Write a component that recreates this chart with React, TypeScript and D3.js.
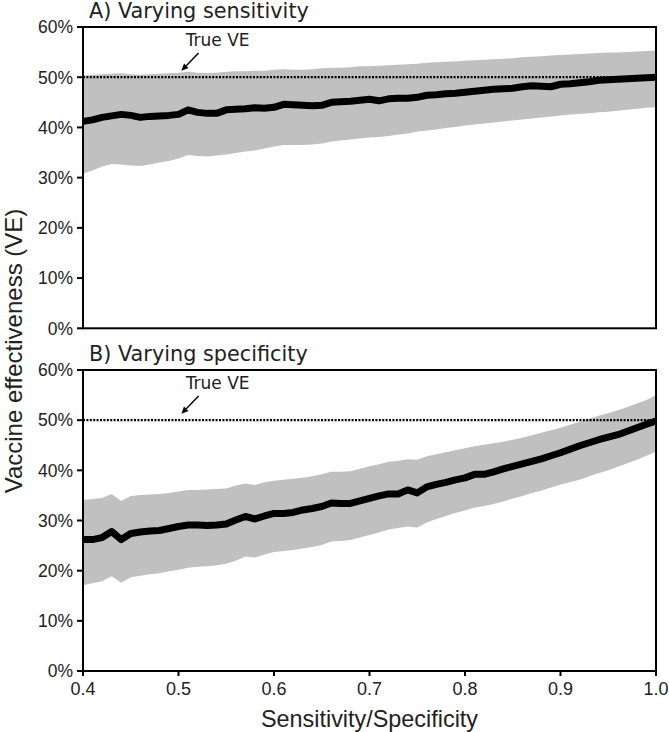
import React from "react";
import * as d3 from "d3";

const xValues: number[] = d3.range(61).map((i) => +(0.4 + i * 0.01).toFixed(2));

const sensMean: number[] = [
  41.2, 41.5, 42.0, 42.3, 42.6, 42.4, 42.0, 42.2, 42.3, 42.4,
  42.6, 43.5, 43.0, 42.8, 42.8, 43.5, 43.6, 43.7, 43.9, 43.8,
  44.0, 44.6, 44.5, 44.4, 44.3, 44.4, 45.0, 45.1, 45.2, 45.4,
  45.6, 45.3, 45.7, 45.8, 45.8, 46.0, 46.4, 46.5, 46.7, 46.8,
  47.0, 47.2, 47.4, 47.6, 47.7, 47.8, 48.1, 48.3, 48.2, 48.1,
  48.6, 48.7, 48.9, 49.1, 49.4, 49.5, 49.6, 49.7, 49.8, 49.9,
  50.0,
];
const sensUpper: number[] = [
  50.3, 50.5, 50.6, 50.7, 50.8, 50.6, 50.5, 50.6, 50.7, 50.8,
  50.9, 51.1, 50.9, 50.8, 50.9, 51.1, 51.2, 51.2, 51.3, 51.3,
  51.5, 51.6, 51.5, 51.5, 51.6, 51.8, 51.9, 51.9, 52.0, 52.2,
  52.2, 52.3, 52.4, 52.5, 52.6, 52.7, 52.9, 53.0, 53.1, 53.2,
  53.3, 53.4, 53.5, 53.6, 53.7, 53.8, 54.0, 54.1, 54.2, 54.3,
  54.4, 54.5, 54.6, 54.7, 54.8, 54.9, 54.9, 55.0, 55.1, 55.2,
  55.3,
];
const sensLower: number[] = [
  30.8, 31.4, 32.2, 32.7, 32.6, 32.4, 32.3, 32.6, 33.0, 33.3,
  33.8, 34.5, 34.3, 34.2, 34.4, 34.6, 34.9, 35.2, 35.4, 35.8,
  36.2, 36.5, 36.5, 36.5, 36.6, 36.8, 37.2, 37.4, 37.6, 37.8,
  38.0, 38.1, 38.3, 38.6, 38.8, 39.2, 39.4, 39.6, 39.9, 40.1,
  40.4, 40.6, 40.8, 41.0, 41.2, 41.4, 41.6, 41.8, 42.0, 42.2,
  42.4, 42.6, 42.7, 42.8, 43.0, 43.1, 43.3, 43.5, 43.7, 43.9,
  44.0,
];

const specMean: number[] = [
  26.2, 26.2, 26.6, 27.8, 26.2, 27.4, 27.7, 27.9, 28.0, 28.4,
  28.8, 29.1, 29.1, 29.0, 29.1, 29.3, 30.1, 30.8, 30.3, 30.9,
  31.4, 31.4, 31.6, 32.1, 32.4, 32.8, 33.5, 33.4, 33.4, 33.9,
  34.4, 34.9, 35.3, 35.3, 36.1, 35.5, 36.7, 37.2, 37.6, 38.1,
  38.5, 39.2, 39.2, 39.7, 40.3, 40.8, 41.3, 41.8, 42.3, 42.9,
  43.5, 44.2, 44.9, 45.5, 46.1, 46.6, 47.1, 47.8, 48.5, 49.2,
  49.8,
];
const specUpper: number[] = [
  34.1, 34.3, 34.5, 35.3, 33.9, 34.9, 35.1, 35.2, 35.3, 35.5,
  35.8, 36.1, 36.1, 36.2, 36.3, 36.4, 37.0, 37.4, 37.1, 37.6,
  37.9, 38.1, 38.3, 38.5, 38.8, 39.2, 39.7, 39.7, 39.8, 40.3,
  40.8, 41.2, 41.7, 41.9, 42.2, 42.1, 42.8, 43.2, 43.6, 44.0,
  44.4, 44.8, 45.1, 45.4, 45.7, 46.1, 46.5, 47.0, 47.5, 48.0,
  48.5, 49.1, 49.7, 50.3, 50.9, 51.4, 52.0, 52.6, 53.3, 54.0,
  55.0,
];
const specLower: number[] = [
  17.1, 17.5, 17.9, 18.9, 17.6, 18.7, 19.0, 19.3, 19.5, 19.9,
  20.2, 20.6, 20.8, 20.9, 21.1, 21.4, 22.0, 22.8, 22.6, 23.2,
  23.7, 23.9, 24.1, 24.4, 24.7, 25.1, 25.8, 25.9, 26.1, 26.6,
  27.1, 27.6, 28.2, 28.5, 28.8, 28.6, 29.6, 30.3, 30.9, 31.5,
  32.0, 32.6, 32.9, 33.3, 33.8, 34.4, 34.9, 35.5, 36.0, 36.6,
  37.2, 37.6, 38.1, 38.8, 39.4, 40.0, 40.7, 41.4, 42.1, 42.9,
  43.7,
];

const yTicks: number[] = [0, 10, 20, 30, 40, 50, 60];
const xTicks: number[] = [0.4, 0.5, 0.6, 0.7, 0.8, 0.9, 1.0];
const trueVE = 50;
const panelTitles: string[] = ["A) Varying sensitivity", "B) Varying specificity"];
const annotationText = "True VE";
const annotText: [number, number] = [0.541, 56.2];
const annotArrowFrom: [number, number] = [0.521, 54.8];
const annotArrowTo: [number, number] = [0.503, 51.3];

const W = 669;
const H = 732;
const left = 83;
const right = 656;
const panels = [
  { top: 27, bottom: 328.3, mean: sensMean, upper: sensUpper, lower: sensLower, title: panelTitles[0], xTicks: false },
  { top: 370, bottom: 671, mean: specMean, upper: specUpper, lower: specLower, title: panelTitles[1], xTicks: true },
];

const tickFont = "'Liberation Sans', Arial, sans-serif";
const titleFont = "'DejaVu Sans', Verdana, sans-serif";

function Panel({ p }: { p: typeof panels[number] }) {
  const x = d3.scaleLinear().domain([0.4, 1.0]).range([left, right]);
  const y = d3.scaleLinear().domain([0, 60]).range([p.bottom, p.top]);
  const rows = xValues.map((xv, i) => ({ x: xv, m: p.mean[i], u: p.upper[i], l: p.lower[i] }));
  const area = d3
    .area<typeof rows[number]>()
    .x((d) => x(d.x))
    .y0((d) => y(d.l))
    .y1((d) => y(d.u));
  const line = d3
    .line<typeof rows[number]>()
    .x((d) => x(d.x))
    .y((d) => y(d.m));

  const ax0 = x(annotArrowFrom[0]);
  const ay0 = y(annotArrowFrom[1]);
  const ax1 = x(annotArrowTo[0]);
  const ay1 = y(annotArrowTo[1]);
  const ang = Math.atan2(ay1 - ay0, ax1 - ax0);
  const hl = 7;
  const hw = 3.2;
  const bx = ax1 - hl * Math.cos(ang);
  const by = ay1 - hl * Math.sin(ang);
  const head = [
    [ax1, ay1],
    [bx + hw * Math.sin(ang), by - hw * Math.cos(ang)],
    [bx - hw * Math.sin(ang), by + hw * Math.cos(ang)],
  ];

  return (
    <g>
      <path d={area(rows) || ""} fill="#c0c0c0" stroke="none" />
      <line
        x1={x(0.4)}
        x2={x(1.0)}
        y1={y(trueVE)}
        y2={y(trueVE)}
        stroke="#000"
        strokeWidth={2.2}
        strokeDasharray="2,1.4"
      />
      <path d={line(rows) || ""} fill="none" stroke="#000" strokeWidth={7} strokeLinejoin="round" />
      <rect
        x={left}
        y={p.top}
        width={right - left}
        height={p.bottom - p.top}
        fill="none"
        stroke="#000"
        strokeWidth={2}
      />
      {yTicks.map((t) => (
        <g key={t}>
          <line x1={left - 6} x2={left} y1={y(t)} y2={y(t)} stroke="#000" strokeWidth={2} />
          <text
            x={left - 10}
            y={y(t)}
            dy="0.36em"
            textAnchor="end"
            fontFamily={tickFont}
            fontSize={17.5}
            fill="#222"
          >
            {t}%
          </text>
        </g>
      ))}
      {p.xTicks &&
        xTicks.map((t) => (
          <g key={t}>
            <line x1={x(t)} x2={x(t)} y1={p.bottom} y2={p.bottom + 5} stroke="#000" strokeWidth={2} />
            <text
              x={x(t)}
              y={p.bottom + 24}
              textAnchor="middle"
              fontFamily={tickFont}
              fontSize={18}
              fill="#222"
            >
              {t.toFixed(1)}
            </text>
          </g>
        ))}
      <text x={89} y={p.top - 9} fontFamily={titleFont} fontSize={20.8} fill="#222">
        {p.title}
      </text>
      <text
        x={x(annotText[0])}
        y={y(annotText[1])}
        textAnchor="middle"
        fontFamily={titleFont}
        fontSize={17}
        fill="#222"
      >
        {annotationText}
      </text>
      <line x1={ax0} y1={ay0} x2={bx} y2={by} stroke="#000" strokeWidth={1.4} />
      <polygon points={head.map((q) => q.join(",")).join(" ")} fill="#000" />
    </g>
  );
}

export default function App() {
  return (
    <svg
      width={W}
      height={H}
      style={{ position: "absolute", left: 0, top: 0, background: "#fff" }}
    >
      <rect x={0} y={0} width={W} height={H} fill="#fff" />
      {panels.map((p, i) => (
        <Panel key={i} p={p} />
      ))}
      <text
        transform={`translate(22,351) rotate(-90)`}
        textAnchor="middle"
        fontFamily={tickFont}
        fontSize={24}
        fill="#222"
      >
        Vaccine effectiveness (VE)
      </text>
      <text
        x={(left + right) / 2}
        y={727}
        textAnchor="middle"
        fontFamily={tickFont}
        fontSize={23.4}
        fill="#222"
      >
        Sensitivity/Specificity
      </text>
    </svg>
  );
}
